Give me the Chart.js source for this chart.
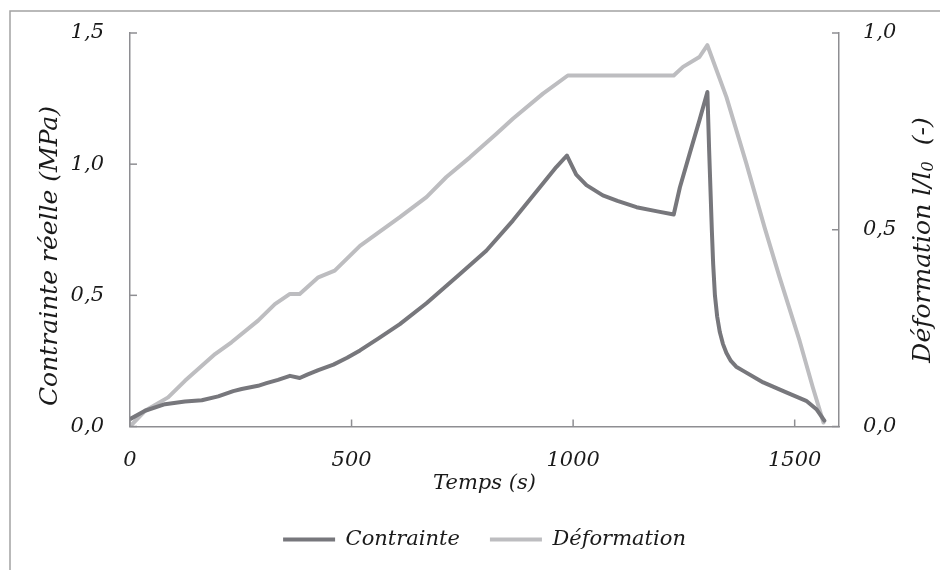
<!DOCTYPE html>
<html>
<head>
<meta charset="utf-8">
<script src="https://cdn.jsdelivr.net/npm/chart.js@4"></script>
<style>
  html, body { margin: 0; padding: 0; background: #ffffff; }
  #wrap { position: relative; width: 940px; height: 570px; }
</style>
</head>
<body>
<div id="wrap"><canvas id="c" width="940" height="570"></canvas></div>
<script>
// ---- Data ----
const timeContrainte = [0, 34, 79, 124, 162, 199, 233, 252, 289, 308, 334, 361, 383, 400, 425, 459, 490, 519, 560, 609, 669, 744, 804, 864, 925, 962, 986, 1007, 1030, 1067, 1100, 1143, 1190, 1227, 1241, 1263, 1285, 1303, 1307, 1310, 1313, 1316, 1320, 1325, 1331, 1338, 1346, 1356, 1368, 1383, 1429, 1481, 1526, 1549, 1567];
const contrainte = [0.028, 0.06, 0.085, 0.095, 0.10, 0.115, 0.135, 0.143, 0.155, 0.165, 0.178, 0.193, 0.185, 0.198, 0.215, 0.236, 0.262, 0.29, 0.335, 0.39, 0.47, 0.58, 0.67, 0.785, 0.912, 0.989, 1.033, 0.96, 0.92, 0.881, 0.86, 0.836, 0.82, 0.808, 0.912, 1.04, 1.167, 1.275, 1.05, 0.90, 0.75, 0.62, 0.50, 0.42, 0.36, 0.315, 0.28, 0.25, 0.228, 0.213, 0.168, 0.13, 0.098, 0.066, 0.022];

const timeDeformation = [0, 34, 86, 124, 192, 229, 289, 327, 361, 383, 425, 462, 519, 609, 669, 714, 767, 827, 864, 932, 988, 1227, 1248, 1285, 1303, 1346, 1391, 1432, 1466, 1511, 1541, 1565];
const deformation = [0, 0.04, 0.074, 0.116, 0.184, 0.214, 0.269, 0.311, 0.337, 0.337, 0.379, 0.396, 0.459, 0.532, 0.583, 0.634, 0.684, 0.744, 0.782, 0.846, 0.892, 0.892, 0.914, 0.939, 0.969, 0.837, 0.668, 0.506, 0.379, 0.218, 0.099, 0.01];

const xTicks = [0, 500, 1000, 1500];
const yTicks = [0, 0.5, 1.0, 1.5];
const y2Ticks = [0, 0.5, 1.0];

const seriesNames = ['Contrainte', 'Déformation'];
const xTitle = 'Temps (s)';
const yTitle = 'Contrainte réelle (MPa)';
const y2TitleMain = 'Déformation l/l';
const y2TitleSub = '0';
const y2TitleEnd = '  (-)';

// ---- Styles ----
const FONT = 'DejaVu Serif';
const TEXT = '#1a1a1a';
const AXIS = '#8e8e92';
const DARK = '#77777c';
const LIGHT = '#bdbdc0';

const fmt = v => v.toFixed(1).replace('.', ',');

const framePlugin = {
  id: 'frame',
  beforeDraw(chart) {
    const ctx = chart.ctx;
    ctx.save();
    ctx.strokeStyle = '#a3a3a3';
    ctx.lineWidth = 1.5;
    ctx.strokeRect(10, 11, 960, 600);
    ctx.restore();
  }
};

const tickMarkPlugin = {
  id: 'tickMarks',
  afterDraw(chart) {
    const ctx = chart.ctx;
    const a = chart.chartArea;
    ctx.save();
    ctx.strokeStyle = AXIS;
    ctx.lineWidth = 1.5;
    const L = 7;
    chart.scales.x.ticks.forEach(t => {
      const px = chart.scales.x.getPixelForValue(t.value);
      ctx.beginPath(); ctx.moveTo(px, a.bottom); ctx.lineTo(px, a.bottom - L); ctx.stroke();
    });
    chart.scales.y.ticks.forEach(t => {
      const py = chart.scales.y.getPixelForValue(t.value);
      ctx.beginPath(); ctx.moveTo(a.left, py); ctx.lineTo(a.left + L, py); ctx.stroke();
    });
    chart.scales.y2.ticks.forEach(t => {
      const py = chart.scales.y2.getPixelForValue(t.value);
      ctx.beginPath(); ctx.moveTo(a.right, py); ctx.lineTo(a.right - L, py); ctx.stroke();
    });
    ctx.restore();
  }
};

const yTitlesPlugin = {
  id: 'yTitles',
  afterDraw(chart) {
    const ctx = chart.ctx;
    ctx.save();
    ctx.fillStyle = TEXT;
    ctx.textBaseline = 'middle';
    // left title
    ctx.save();
    ctx.translate(50, 256);
    ctx.rotate(-Math.PI / 2);
    ctx.font = 'italic 25px "' + FONT + '"';
    ctx.textAlign = 'center';
    ctx.fillText(yTitle, 0, 0);
    ctx.restore();
    // right title with subscript
    ctx.save();
    ctx.translate(923, 240);
    ctx.rotate(-Math.PI / 2);
    ctx.textAlign = 'left';
    const big = 'italic 25px "' + FONT + '"';
    const small = 'italic 16px "' + FONT + '"';
    ctx.font = big;
    const w1 = ctx.measureText(y2TitleMain).width;
    const w3 = ctx.measureText(y2TitleEnd).width;
    ctx.font = small;
    const w2 = ctx.measureText(y2TitleSub).width;
    let x0 = -(w1 + w2 + w3) / 2;
    ctx.font = big;
    ctx.fillText(y2TitleMain, x0, 0);
    ctx.font = small;
    ctx.fillText(y2TitleSub, x0 + w1, 6);
    ctx.font = big;
    ctx.fillText(y2TitleEnd, x0 + w1 + w2, 0);
    ctx.restore();
    ctx.restore();
  }
};

const setTicks = arr => scale => { scale.ticks = arr.map(v => ({ value: v })); };

new Chart(document.getElementById('c'), {
  type: 'line',
  data: {
    datasets: [
      {
        label: seriesNames[0],
        data: timeContrainte.map((t, i) => ({ x: t, y: contrainte[i] })),
        borderColor: DARK,
        backgroundColor: DARK,
        borderWidth: 4,
        pointRadius: 0,
        tension: 0,
        borderJoinStyle: 'round',
        borderCapStyle: 'round',
        yAxisID: 'y'
      },
      {
        label: seriesNames[1],
        data: timeDeformation.map((t, i) => ({ x: t, y: deformation[i] })),
        borderColor: LIGHT,
        backgroundColor: LIGHT,
        borderWidth: 4,
        pointRadius: 0,
        tension: 0,
        borderJoinStyle: 'round',
        borderCapStyle: 'round',
        yAxisID: 'y2'
      }
    ]
  },
  options: {
    responsive: false,
    animation: false,
    devicePixelRatio: 1,
    layout: { padding: { top: 33, left: 0, right: 0, bottom: 10 } },
    plugins: {
      tooltip: { enabled: false },
      legend: {
        position: 'bottom',
        fullSize: false,
        labels: {
          usePointStyle: true,
          pointStyle: 'line',
          pointStyleWidth: 52,
          padding: 30,
          color: TEXT,
          font: { family: FONT, style: 'italic', size: 21 }
        }
      }
    },
    scales: {
      x: {
        type: 'linear',
        min: 0,
        max: 1600,
        afterBuildTicks: setTicks(xTicks),
        afterFit: s => { s.height = 72.5; },
        grid: { display: false, drawTicks: false },
        border: { display: true, color: AXIS, width: 1.5 },
        ticks: {
          padding: 21,
          color: TEXT,
          maxRotation: 0,
          font: { family: FONT, style: 'italic', size: 21 },
          callback: v => String(v)
        },
        title: {
          display: true,
          text: xTitle,
          color: TEXT,
          padding: { top: 0, bottom: 3 },
          font: { family: FONT, style: 'italic', size: 21 }
        }
      },
      y: {
        type: 'linear',
        position: 'left',
        min: 0,
        max: 1.5,
        afterBuildTicks: setTicks(yTicks),
        afterFit: s => { s.width = 130; },
        grid: { display: false, drawTicks: true, tickLength: 24 },
        border: { display: true, color: AXIS, width: 1.5 },
        ticks: {
          padding: 2,
          color: TEXT,
          font: { family: FONT, style: 'italic', size: 21 },
          callback: v => fmt(v)
        }
      },
      y2: {
        type: 'linear',
        position: 'right',
        min: 0,
        max: 1.0,
        afterBuildTicks: setTicks(y2Ticks),
        afterFit: s => { s.width = 101; },
        grid: { display: false, drawTicks: true, tickLength: 22 },
        border: { display: true, color: AXIS, width: 1.5 },
        ticks: {
          padding: 2,
          color: TEXT,
          font: { family: FONT, style: 'italic', size: 21 },
          callback: v => fmt(v)
        }
      }
    }
  },
  plugins: [framePlugin, tickMarkPlugin, yTitlesPlugin]
});
</script>
</body>
</html>
